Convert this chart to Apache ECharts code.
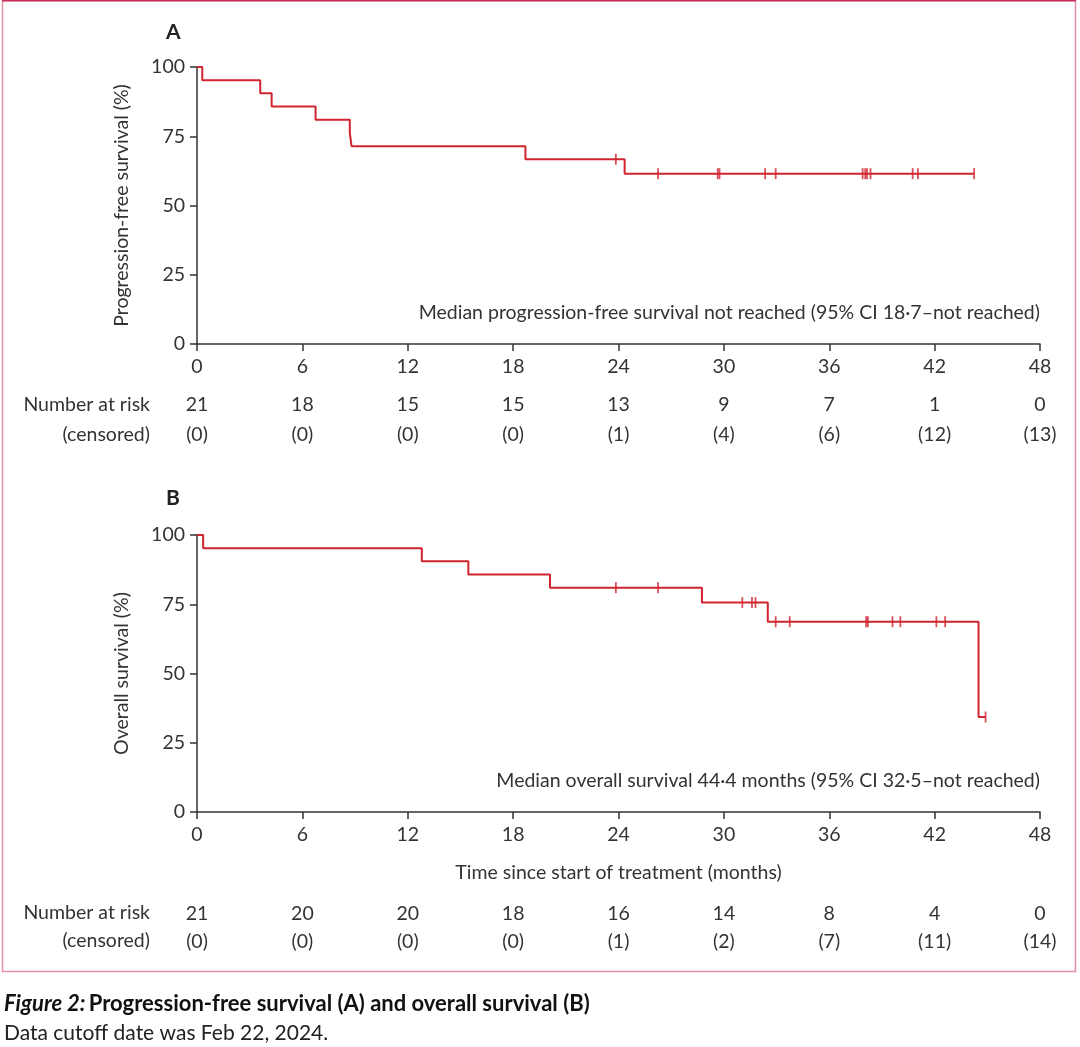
<!DOCTYPE html>
<html>
<head>
<meta charset="utf-8">
<script src="https://cdn.jsdelivr.net/npm/echarts@6/dist/echarts.min.js"></script>
<style>
  html, body { margin: 0; padding: 0; background: #fff; }
  #chart { width: 1080px; height: 1047px; }
</style>
</head>
<body>
<div id="chart"></div>
<script>
// x axis ticks (months)
var monthTicks = [0, 6, 12, 18, 24, 30, 36, 42, 48];

// panel A: progression-free survival, step points
var pfsTimes = [0, 0.3, 3.6, 4.25, 6.75, 8.7, 8.8, 18.7, 24.35, 44.25];
var pfsSurv = [100, 95.2, 90.5, 85.7, 81.0, 76.2, 71.4, 66.7, 61.5, 61.5];
var pfsCensor = [23.85, 26.25, 29.65, 29.75, 32.35, 32.95, 37.9, 38.05, 38.15, 38.35, 40.75, 41.05, 44.25];
var pfsAtRisk = [21, 18, 15, 15, 13, 9, 7, 1, 0];
var pfsCensored = [0, 0, 0, 0, 1, 4, 6, 12, 13];

// panel B: overall survival
var osTimes = [0, 0.35, 12.8, 15.45, 20.1, 28.75, 32.5, 44.5, 44.9];
var osSurv = [100, 95.2, 90.5, 85.7, 81.0, 75.6, 68.7, 34.3, 34.3];
var osCensor = [23.85, 26.25, 31.05, 31.6, 31.8, 32.95, 33.75, 38.1, 38.2, 39.6, 40.05, 42.1, 42.6, 44.9];
var osAtRisk = [21, 20, 20, 18, 16, 14, 8, 4, 0];
var osCensored = [0, 0, 0, 0, 1, 2, 7, 11, 14];

var RED = '#d0242f';
var INK = '#333333';
var FONT = 'Lato';
var FS = 19.5;

function pairs(xs, ys) {
    var out = [];
    for (var i = 0; i < xs.length; i++) {
        out.push([xs[i], ys[i]]);
    }
    return out;
}

// y of each censor mark = survival level at that time
function censorPoints(times, surv, marks) {
    return marks.map(function (t) {
        var s = surv[0];
        for (var i = 0; i < times.length; i++) {
            if (times[i] <= t) s = surv[i];
        }
        return [t, s];
    });
}

function mainX(gridIndex, name) {
    return {
        type: 'value', gridIndex: gridIndex, min: 0, max: 48, interval: 6,
        name: name || '', nameLocation: 'middle', nameGap: 51,
        nameTextStyle: { color: INK, fontFamily: FONT, fontSize: FS },
        axisLine: { show: true, onZero: false, lineStyle: { color: INK, width: 1.5 } },
        axisTick: { show: true, length: 7, lineStyle: { color: INK, width: 1.5 } },
        axisLabel: { color: INK, fontFamily: FONT, fontSize: FS, margin: 13 },
        splitLine: { show: false }
    };
}

function riskX(gridIndex, offset, values) {
    return {
        type: 'value', gridIndex: gridIndex, min: 0, max: 48, interval: 6,
        position: 'bottom', offset: offset,
        axisLine: { show: false },
        axisTick: { show: false },
        splitLine: { show: false },
        axisLabel: {
            color: INK, fontFamily: FONT, fontSize: FS, margin: 0, verticalAlign: 'middle',
            formatter: function (v) {
                var i = monthTicks.indexOf(v);
                return i < 0 ? '' : values[i];
            }
        }
    };
}

function yAxis(gridIndex, name) {
    return {
        type: 'value', gridIndex: gridIndex, min: 0, max: 100, interval: 25,
        name: name, nameLocation: 'middle', nameGap: 65,
        nameTextStyle: { color: INK, fontFamily: FONT, fontSize: FS },
        axisLine: { show: true, lineStyle: { color: INK, width: 1.5 } },
        axisTick: { show: true, length: 7, lineStyle: { color: INK, width: 1.5 } },
        axisLabel: { color: INK, fontFamily: FONT, fontSize: FS, margin: 12 },
        splitLine: { show: false }
    };
}

function rowLabel(text, y) {
    return {
        type: 'text', x: 150, y: y,
        style: { text: text, fill: INK, font: FS + 'px ' + FONT, textAlign: 'right', textVerticalAlign: 'middle' }
    };
}

var chart = echarts.init(document.getElementById('chart'));

chart.setOption({
    animation: false,
    backgroundColor: '#fff',
    grid: [
        { left: 197, right: 40, top: 67, height: 277 },
        { left: 197, right: 40, top: 535, height: 277 }
    ],
    xAxis: [
        mainX(0),
        riskX(0, 61, pfsAtRisk.map(String)),
        riskX(0, 91, pfsCensored.map(function (c) { return '(' + c + ')'; })),
        mainX(1, 'Time since start of treatment (months)'),
        riskX(1, 102, osAtRisk.map(String)),
        riskX(1, 130, osCensored.map(function (c) { return '(' + c + ')'; }))
    ],
    yAxis: [
        yAxis(0, 'Progression-free survival (%)'),
        yAxis(1, 'Overall survival (%)')
    ],
    series: [
        {
            type: 'line', xAxisIndex: 0, yAxisIndex: 0, step: 'end',
            data: pairs(pfsTimes, pfsSurv), showSymbol: false,
            lineStyle: { color: RED, width: 2 }
        },
        {
            type: 'scatter', xAxisIndex: 0, yAxisIndex: 0,
            data: censorPoints(pfsTimes, pfsSurv, pfsCensor),
            symbol: 'rect', symbolSize: [1.8, 11], itemStyle: { color: RED }
        },
        {
            type: 'line', xAxisIndex: 3, yAxisIndex: 1, step: 'end',
            data: pairs(osTimes, osSurv), showSymbol: false,
            lineStyle: { color: RED, width: 2 }
        },
        {
            type: 'scatter', xAxisIndex: 3, yAxisIndex: 1,
            data: censorPoints(osTimes, osSurv, osCensor),
            symbol: 'rect', symbolSize: [1.8, 11], itemStyle: { color: RED }
        }
    ],
    graphic: [
        {
            type: 'rect', silent: true, z: -1,
            shape: { x: 2.5, y: 0.5, width: 1073, height: 971 },
            style: { fill: 'none', stroke: '#e391a8', lineWidth: 1.5 }
        },
        {
            type: 'line', silent: true,
            shape: { x1: 2, y1: 0.8, x2: 1076, y2: 0.8 },
            style: { stroke: '#c8325a', lineWidth: 1.6 }
        },
        {
            type: 'text', left: 166, top: 22,
            style: { text: 'A', fill: '#222', font: 'bold 21px ' + FONT }
        },
        {
            type: 'text', left: 166, top: 488,
            style: { text: 'B', fill: '#222', font: 'bold 21px ' + FONT }
        },
        rowLabel('Number at risk', 405),
        rowLabel('(censored)', 435),
        rowLabel('Number at risk', 913),
        rowLabel('(censored)', 941),
        {
            type: 'text', x: 1040, y: 313,
            style: {
                text: 'Median progression-free survival not reached (95% CI 18·7–not reached)',
                fill: INK, font: FS + 'px ' + FONT, textAlign: 'right', textVerticalAlign: 'middle'
            }
        },
        {
            type: 'text', x: 1040, y: 781,
            style: {
                text: 'Median overall survival 44·4 months (95% CI 32·5–not reached)',
                fill: INK, font: FS + 'px ' + FONT, textAlign: 'right', textVerticalAlign: 'middle'
            }
        },
        {
            type: 'text', x: 4, y: 1004,
            style: {
                text: '{i|Figure 2:} {b|Progression-free survival (A) and overall survival (B)}',
                textVerticalAlign: 'middle',
                rich: {
                    i: { font: 'italic bold 22px ' + FONT, fill: '#111' },
                    b: { font: 'bold 22px ' + FONT, fill: '#111' }
                }
            }
        },
        {
            type: 'text', x: 4, y: 1033,
            style: {
                text: 'Data cutoff date was Feb 22, 2024.',
                fill: '#222', font: '21px ' + FONT, textVerticalAlign: 'middle'
            }
        }
    ]
});
</script>
</body>
</html>
